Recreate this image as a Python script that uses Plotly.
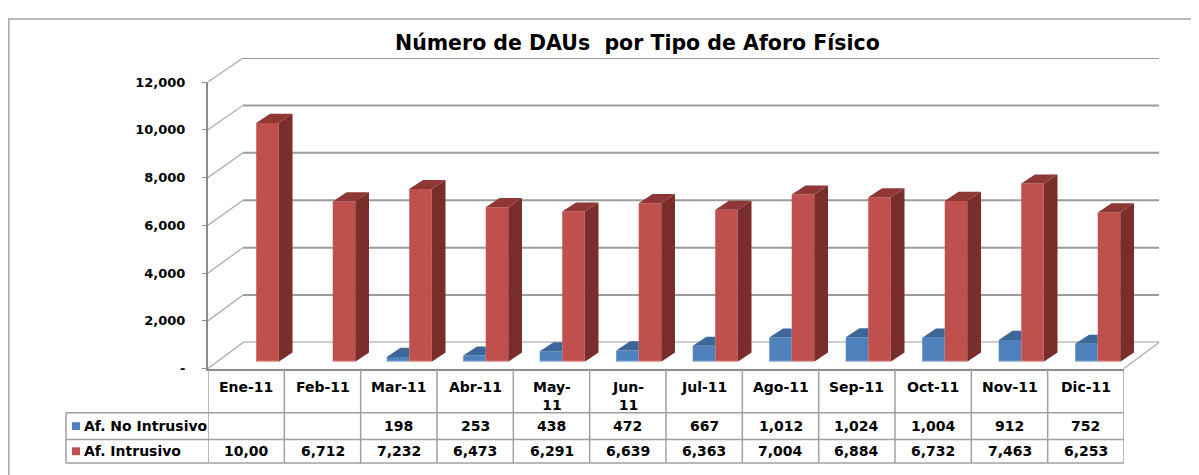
import plotly.graph_objects as go

# ---------------- data ----------------
meses = ["Ene-11", "Feb-11", "Mar-11", "Abr-11", "May-11", "Jun-11",
         "Jul-11", "Ago-11", "Sep-11", "Oct-11", "Nov-11", "Dic-11"]
meses_tabla = ["Ene-11", "Feb-11", "Mar-11", "Abr-11", "May-<br>11", "Jun-<br>11",
               "Jul-11", "Ago-11", "Sep-11", "Oct-11", "Nov-11", "Dic-11"]
no_intrusivo = [None, None, 198, 253, 438, 472, 667, 1012, 1024, 1004, 912, 752]
intrusivo = [10000, 6712, 7232, 6473, 6291, 6639, 6363, 7004, 6884, 6732, 7463, 6253]
series_names = ["Af. No Intrusivo", "Af. Intrusivo"]
y_tickvals = [0, 2000, 4000, 6000, 8000, 10000, 12000]
y_ticktext = ["-", "2,000", "4,000", "6,000", "8,000", "10,000", "12,000"]
titulo = "Número de DAUs\u00a0 por Tipo de Aforo Físico"

# ---------------- geometry (pixels of the 1199x475 picture) ----------------
# page body has an 8px margin; the photographed picture is slightly
# compressed vertically (factor S), so picture pixels are converted here.
OFF = 8
S = 467 / 475
W, H = 1199 - 2 * OFF, 475 - OFF
def fx(px): return (px - OFF) / W
def fy(py): return 1 - (py / S - OFF) / H

FRONT_X, FRONT_Y = (208, 1124), (367, 76)       # front plane (axis labels)
BACK_X, BACK_Y = (243, 1159), (340.5, 51.5)     # back wall (gridlines)
BAR_X, BAR_Y = (218, 1136), (360, 69)           # plane where the bars stand
YMAX = 12000
NCAT = len(meses)
idx = list(range(NCAT))

BW = 0.294          # bar width in category units
DX = 0.18           # bar depth (x units)
DY = 380            # bar depth (y units)

BLUE, BLUE_TOP, BLUE_SIDE, BLUE_LIGHT = "#4F81BD", "#3C6798", "#345A86", "#A9C3E3"
RED, RED_TOP, RED_SIDE, RED_LIGHT = "#C0504D", "#8E3735", "#7A2E2C", "#EBA3A1"
GRID = "#9C9C9C"
AXIS = "#8C8C8C"
FONT = "DejaVu Sans"

fig = go.Figure()

# ---- back wall gridlines (subplot x/y) ----
gx, gy = [], []
for v in y_tickvals:
    gx += [-0.5, NCAT - 0.5, None]
    gy += [v, v, None]
fig.add_trace(go.Scatter(x=gx, y=gy, mode="lines", line=dict(color=GRID, width=2),
                         hoverinfo="skip", showlegend=False, xaxis="x", yaxis="y"))

# ---- bars (subplot x2/y2) ----
def faces(values, offset, clip_right):
    sx, sy, tx, ty = [], [], [], []
    for i, v in zip(idx, values):
        if v is None:
            continue
        xl = i + offset
        xr = xl + BW
        if clip_right:
            # only the part of the top visible left of the neighbouring bar
            tx += [xl, xr, xr, xl + DX, xl, None]
            ty += [v, v, v + DY, v + DY, v, None]
        else:
            sx += [xr, xr + DX, xr + DX, xr, xr, None]
            sy += [0, DY, v + DY, v, 0, None]
            tx += [xl, xr, xr + DX, xl + DX, xl, None]
            ty += [v, v, v + DY, v + DY, v, None]
    return sx, sy, tx, ty

def floor_lines(values, offset):
    lx, ly = [], []
    for i, v in zip(idx, values):
        if v is None:
            continue
        lx += [i + offset, i + offset + BW, None]
        ly += [0, 0, None]
    return lx, ly

for vals, off, c, ctop, cside, clight, name, clip in [
        (no_intrusivo, -BW, BLUE, BLUE_TOP, BLUE_SIDE, BLUE_LIGHT, series_names[0], True),
        (intrusivo, 0.0, RED, RED_TOP, RED_SIDE, RED_LIGHT, series_names[1], False)]:
    fig.add_trace(go.Bar(x=idx, y=vals, width=BW, offset=off, marker=dict(color=c, line=dict(width=0)),
                         name=name, showlegend=False, xaxis="x2", yaxis="y2",
                         customdata=meses, hovertemplate="%{customdata}: %{y:,}<extra>" + name + "</extra>"))
    sx, sy, tx, ty = faces(vals, off, clip)
    if sx:
        fig.add_trace(go.Scatter(x=sx, y=sy, mode="lines", fill="toself", fillcolor=cside,
                                 line=dict(width=0, color=cside), hoverinfo="skip",
                                 showlegend=False, xaxis="x2", yaxis="y2"))
    fig.add_trace(go.Scatter(x=tx, y=ty, mode="lines", fill="toself", fillcolor=ctop,
                             line=dict(width=0, color=ctop), hoverinfo="skip",
                             showlegend=False, xaxis="x2", yaxis="y2"))
    lx, ly = floor_lines(vals, off)
    fig.add_trace(go.Scatter(x=lx, y=ly, mode="lines", line=dict(color=clight, width=2),
                             hoverinfo="skip", showlegend=False, xaxis="x2", yaxis="y2"))

# ---- front plane (axis with labels, subplot x3/y3) ----
fig.add_trace(go.Scatter(x=[0], y=[0], mode="markers", marker=dict(opacity=0),
                         hoverinfo="skip", showlegend=False, xaxis="x3", yaxis="y3"))

hidden = dict(showgrid=False, zeroline=False, showticklabels=False, ticks="", showline=False)
fig.update_layout(
    width=W, height=H,
    margin=dict(l=0, r=0, t=0, b=0),
    paper_bgcolor="white", plot_bgcolor="rgba(0,0,0,0)",
    barmode="overlay",
    xaxis=dict(domain=[fx(BACK_X[0]), fx(BACK_X[1])], range=[-0.5, NCAT - 0.5], **hidden),
    yaxis=dict(domain=[fy(BACK_Y[0]), fy(BACK_Y[1])], range=[0, YMAX], **hidden),
    xaxis2=dict(domain=[fx(BAR_X[0]), fx(BAR_X[1])], range=[-0.5, NCAT - 0.5], anchor="y2", **hidden),
    yaxis2=dict(domain=[fy(BAR_Y[0]), fy(BAR_Y[1])], range=[0, YMAX], anchor="x2", **hidden),
    xaxis3=dict(domain=[fx(FRONT_X[0]), fx(FRONT_X[1])], range=[-0.5, NCAT - 0.5], anchor="y3",
                showgrid=False, zeroline=False, showticklabels=False, ticks="",
                showline=True, linecolor=AXIS, linewidth=2),
    yaxis3=dict(domain=[fy(FRONT_Y[0]), fy(FRONT_Y[1])], range=[0, YMAX], anchor="x3",
                showgrid=False, zeroline=False, showline=True, linecolor=AXIS, linewidth=2,
                tickmode="array", tickvals=y_tickvals, ticktext=y_ticktext,
                ticks="outside", ticklen=4, tickcolor=AXIS, tickwidth=1,
                ticklabelstandoff=14,
                tickfont=dict(family=FONT, size=13, color="black", weight="bold")),
    showlegend=False,
)

shapes = []
annots = []

# outer border of the chart area
shapes.append(dict(type="rect", xref="paper", yref="paper", x0=fx(8.8), x1=1.01, y0=-0.02, y1=fy(12),
                   fillcolor="rgba(0,0,0,0)", line=dict(color="#A6A6A6", width=1.5), layer="below"))

# left wall diagonals (front tick -> back gridline)
def front_py(v): return FRONT_Y[0] + (FRONT_Y[1] - FRONT_Y[0]) * v / YMAX
def back_py(v): return BACK_Y[0] + (BACK_Y[1] - BACK_Y[0]) * v / YMAX
for v in y_tickvals:
    shapes.append(dict(type="line", xref="paper", yref="paper",
                       x0=fx(FRONT_X[0]), y0=fy(front_py(v)), x1=fx(BACK_X[0]), y1=fy(back_py(v)),
                       line=dict(color="#A8A8A8", width=1.2), layer="below"))
# right floor diagonal
shapes.append(dict(type="line", xref="paper", yref="paper",
                   x0=fx(FRONT_X[1]), y0=fy(FRONT_Y[0]), x1=fx(BACK_X[1]), y1=fy(BACK_Y[0]),
                   line=dict(color="#A8A8A8", width=1.2), layer="below"))

# ---- data table ----
TBL_TOP, ROW1, ROW2, TBL_BOT = 367, 412, 439, 463
TBL_LEFT = 66
TBL_LINE = dict(color="#A0A0A0", width=1.5)
for k in range(NCAT + 1):
    shapes.append(dict(type="line", xref="x3", yref="paper", x0=k - 0.5, x1=k - 0.5,
                       y0=fy(TBL_TOP), y1=fy(TBL_BOT), line=TBL_LINE))
shapes.append(dict(type="line", xref="paper", yref="paper", x0=fx(TBL_LEFT), x1=fx(TBL_LEFT),
                   y0=fy(ROW1), y1=fy(TBL_BOT), line=TBL_LINE))
for yy in (ROW1, ROW2, TBL_BOT):
    shapes.append(dict(type="line", xref="paper", yref="paper", x0=fx(TBL_LEFT), x1=fx(FRONT_X[1]),
                       y0=fy(yy), y1=fy(yy), line=TBL_LINE))

tfont = dict(family=FONT, size=14, color="black", weight="bold")
for i, lab in zip(idx, meses_tabla):
    annots.append(dict(x=i, y=fy(376), xref="x3", yref="paper", text=lab, showarrow=False,
                       xanchor="center", yanchor="top", font=tfont, align="center"))

def fmt(v):
    return "" if v is None else f"{v:,}"
row_no = [fmt(v) for v in no_intrusivo]
row_si = [fmt(v) for v in intrusivo]
row_si[0] = row_si[0][:5]   # the first cell is clipped in the original table ("10,00")

for yy, row in ((425.5, row_no), (451, row_si)):
    for i, t in zip(idx, row):
        annots.append(dict(x=i, y=fy(yy), xref="x3", yref="paper", text=t, showarrow=False,
                           xanchor="center", yanchor="middle", font=tfont))

for yy, name, c in ((425.5, series_names[0], BLUE), (451, series_names[1], RED)):
    shapes.append(dict(type="rect", xref="paper", yref="paper", x0=fx(72), x1=fx(80),
                       y0=fy(yy - 4), y1=fy(yy + 4), fillcolor=c, line=dict(width=0)))
    annots.append(dict(x=fx(82), y=fy(yy), xref="paper", yref="paper", text=name, showarrow=False,
                       xanchor="left", yanchor="middle", font=tfont))

# title
annots.append(dict(x=fx(637), y=fy(36), xref="paper", yref="paper", text=titulo, showarrow=False,
                   xanchor="center", yanchor="middle",
                   font=dict(family=FONT, size=20.5, color="black", weight="bold")))

fig.update_layout(shapes=shapes, annotations=annots)
fig.write_html("out.html")
